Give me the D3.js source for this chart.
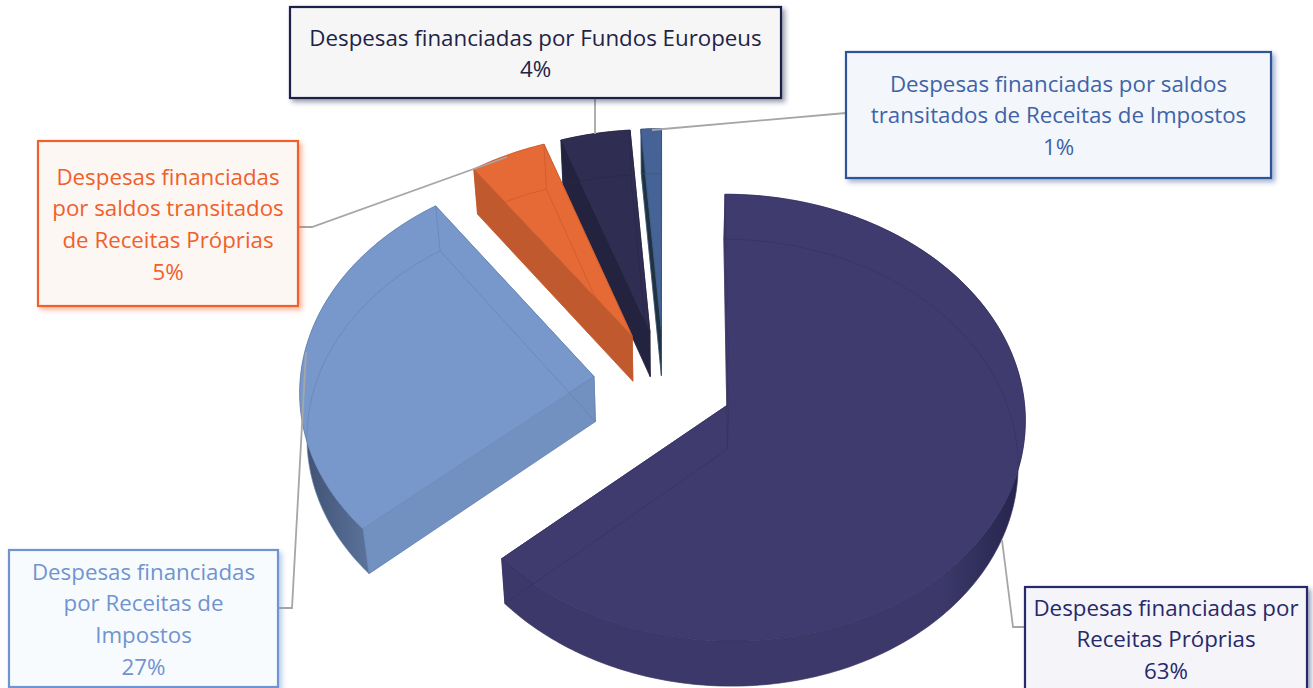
<!DOCTYPE html>
<html><head><meta charset="utf-8">
<script src="https://cdn.jsdelivr.net/npm/d3@7"></script>
<style>html,body{margin:0;padding:0;background:#fff;overflow:hidden}svg{display:block}text{font-family:"Open Sans",sans-serif}</style>
</head><body><svg id="c" width="1313" height="688"></svg>
<script>
const categories = [
  "Despesas financiadas por Receitas Próprias",
  "Despesas financiadas por Receitas de Impostos",
  "Despesas financiadas por saldos transitados de Receitas Próprias",
  "Despesas financiadas por Fundos Europeus",
  "Despesas financiadas por saldos transitados de Receitas de Impostos"
];
const percentages = [63.4, 26.8, 4.5, 4.1, 1.2];
const labelLines = [
  ["Despesas financiadas por", "Receitas Próprias"],
  ["Despesas financiadas", "por Receitas de", "Impostos"],
  ["Despesas financiadas", "por saldos transitados", "de Receitas Próprias"],
  ["Despesas financiadas por Fundos Europeus"],
  ["Despesas financiadas por saldos", "transitados de Receitas de Impostos"]
];
const topColors  = ["#3f3b6f", "#7898cc", "#e66a35", "#2f2e52", "#456396"];
const wallColors = ["#3c396a", "#7291c0", "#c05a2e", "#23233f", "#1e3340"];
const darkColors = ["#24234a", "#3f4f70", "#c05a2e", "#23233f", "#1e3340"];
const boxStroke  = ["#27296a", "#7094cf", "#f0602a", "#1f2346", "#2f5597"];
const boxFill    = ["#f4f4f9", "#f8fbfe", "#fdf7f4", "#f6f6f7", "#f3f7fb"];
const textColor  = ["#27296a", "#7094cf", "#f0602a", "#1f2346", "#3f63a8"];
const boxes = [
  {x:1025,y:587,w:282,h:130,ty:607},
  {x:9,y:550,w:269,h:137,ty:571},
  {x:38,y:141,w:260,h:165,ty:176},
  {x:290,y:7,w:491,h:91,ty:37},
  {x:846,y:52,w:425,h:126,ty:83}
];
const leaders = [
  [[1002,540],[1013,627],[1025,627]],
  [[278,608],[292,608],[306,352]],
  [[298,227],[312,227],[507,157]],
  [[595,98],[595,134]],
  [[846,113],[652,130]]
];

const Cx=664, Cy=382.5, Rx=294, Ry=220, persp=0.06, explode=0.24, depth=45, shrink=0.98;
const total = d3.sum(percentages);
const arcs = d3.pie().sort(null).startAngle(0).endAngle(2*Math.PI)(percentages);

function top3(a, r, mid){
  const u = explode*Math.sin(mid) + r*Math.sin(a);
  const v = -explode*Math.cos(mid) - r*Math.cos(a);
  const s = 1/(1-persp*v);
  return [Cx+Rx*u*s, Cy+Ry*v*s];
}
const lower = p => [Cx+(p[0]-Cx)*shrink, p[1]+depth];
const line = d3.line();
const svg = d3.select("#c");
const defs = svg.append("defs");

percentages.forEach((_,i)=>{
  const g = defs.append("linearGradient").attr("id","w"+i);
  const blueSide = i===1;
  g.append("stop").attr("offset",blueSide?"0":"0.84").attr("stop-color",blueSide?darkColors[i]:wallColors[i]);
  g.append("stop").attr("offset",blueSide?"0.9":"1").attr("stop-color",blueSide?wallColors[i]:darkColors[i]);
  const f = defs.append("filter").attr("id","s"+i).attr("x","-10%").attr("y","-10%").attr("width","120%").attr("height","125%");
  f.append("feDropShadow").attr("dx",3).attr("dy",3).attr("stdDeviation",2.5)
    .attr("flood-color",boxStroke[i]).attr("flood-opacity",0.45);
});

const order = [4,3,2,1,0];
const gPie = svg.append("g");
order.forEach(i=>{
  const d = arcs[i], mid=(d.startAngle+d.endAngle)/2;
  const n = Math.max(6, Math.round((d.endAngle-d.startAngle)*60));
  const angles = d3.range(n+1).map(k=>d.startAngle+(d.endAngle-d.startAngle)*k/n);
  const rim = angles.map(a=>top3(a,1,mid));
  const apex = top3(0,0,mid);
  const rimLow = rim.map(lower), apexLow = lower(apex);
  const edge = d3.color(topColors[i]).darker(0.45).formatHex();
  const g = gPie.append("g");
  const fillPath=(pts,fill)=>g.append("path").attr("d",line(pts)+"Z").attr("fill",fill).attr("stroke",fill).attr("stroke-width",0.5);
  fillPath([apex,rim[0],rimLow[0],apexLow],wallColors[i]);
  fillPath([apex,rim[n],rimLow[n],apexLow],wallColors[i]);
  g.append("path").attr("d",line(rim.concat(rimLow.slice().reverse()))+"Z").attr("fill",`url(#w${i})`);
  fillPath([apex].concat(rim),topColors[i]);
  const stroke=(pts)=>g.append("path").attr("d",line(pts)).attr("fill","none").attr("stroke",edge).attr("stroke-width",0.9).attr("stroke-opacity",0.75);
  stroke(rimLow); stroke([apexLow,rimLow[0]]); stroke([apexLow,rimLow[n]]);
  stroke([apex,apexLow]); stroke([rim[0],rimLow[0]]); stroke([rim[n],rimLow[n]]);
  stroke([rim[0],apex,rim[n]]); stroke(rim);
});

const gLead = svg.append("g");
leaders.forEach(pts=>gLead.append("path").attr("d",line(pts)).attr("fill","none").attr("stroke","#a6a6a6").attr("stroke-width",1.8));

const gLab = svg.append("g");
boxes.forEach((b,i)=>{
  gLab.append("rect").attr("x",b.x).attr("y",b.y).attr("width",b.w).attr("height",b.h)
    .attr("fill",boxFill[i]).attr("stroke",boxStroke[i]).attr("stroke-width",2.2).attr("filter",`url(#s${i})`);
  const lines = labelLines[i].concat([d3.format(".0f")(percentages[i]/total*100)+"%"]);
  lines.forEach((t,k)=>gLab.append("text").attr("x",b.x+b.w/2).attr("y",b.ty+k*31.7)
    .attr("text-anchor","middle").attr("dominant-baseline","central")
    .attr("font-size",22.3).attr("fill",textColor[i]).text(t));
});
</script></body></html>
